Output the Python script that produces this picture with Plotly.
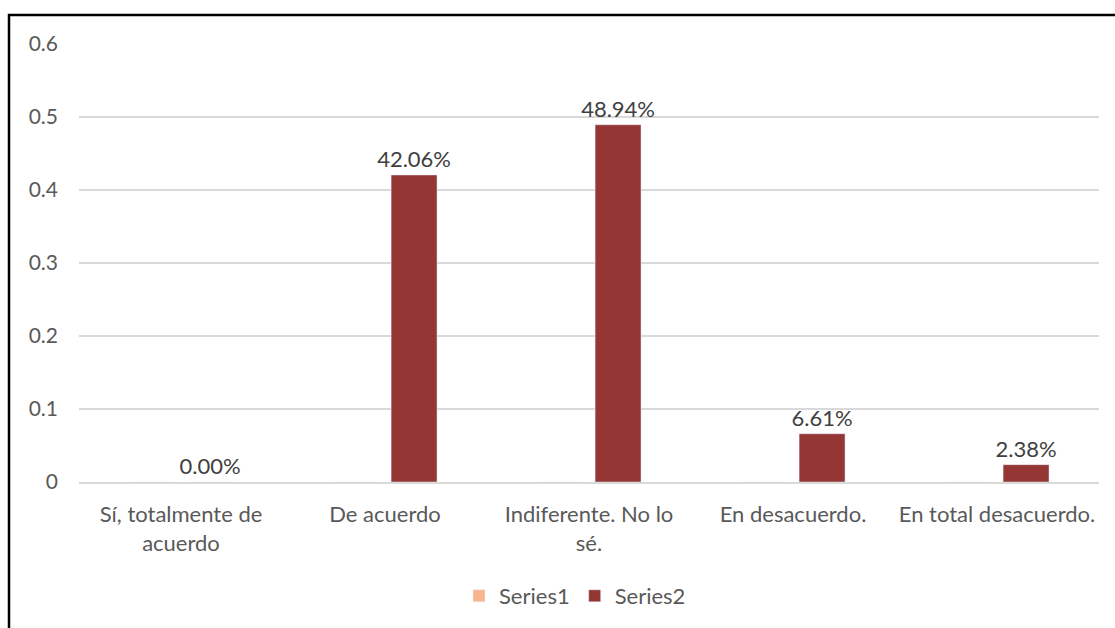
import plotly.graph_objects as go

categories = ["Sí, totalmente de<br>acuerdo", "De acuerdo", "Indiferente. No lo<br>sé.",
              "En desacuerdo.", "En total desacuerdo."]
series1 = [0, 0, 0, 0, 0]
series2 = [0.0, 0.4206, 0.4894, 0.0661, 0.0238]
series2_labels = ["0.00%", "42.06%", "48.94%", "6.61%", "2.38%"]
y_ticks = [0, 0.1, 0.2, 0.3, 0.4, 0.5, 0.6]

FONT = "Lato"
fig = go.Figure()
fig.add_trace(go.Bar(x=categories, y=series1, name="Series1", marker_color="#F9B68E"))
fig.add_trace(go.Bar(x=categories, y=series2, name="Series2", marker_color="#943634",
                     text=series2_labels, textposition="outside", cliponaxis=False,
                     constraintext="none",
                     textfont=dict(family=FONT, size=22, color="#404040")))

L, R, T, B = 79, 16, 44, 146
W, H = 1115, 628
pw = W - L - R
ph = H - T - B

def px_x(p):
    return (p - L) / pw

def px_y(p):
    return (H - B - p) / ph

fig.update_layout(
    width=W, height=H,
    margin=dict(l=L, r=R, t=T, b=B, pad=0, autoexpand=False),
    paper_bgcolor="white", plot_bgcolor="white",
    barmode="group", bargap=0.43, bargroupgap=0.21,
    font=dict(family=FONT, size=22, color="#595959"),
    showlegend=True,
    legend=dict(orientation="h", x=px_x(575), xanchor="center", y=px_y(596), yanchor="middle",
                font=dict(family=FONT, size=22, color="#595959"),
                itemwidth=30, traceorder="normal"),
    yaxis=dict(range=[0, 0.6], tickvals=y_ticks, ticktext=[str(v) for v in y_ticks],
               showgrid=True, gridcolor="#D9D9D9", gridwidth=1.5, zeroline=False,
               showline=False, ticks="", ticklabelstandoff=20,
               tickfont=dict(family=FONT, size=21, color="#595959")),
    xaxis=dict(showgrid=False, showline=True, linecolor="#D9D9D9", linewidth=1.5,
               ticks="", ticklabelstandoff=12,
               tickfont=dict(family=FONT, size=22, color="#595959")),
    shapes=[dict(type="rect", xref="paper", yref="paper",
                 x0=px_x(9), x1=px_x(1130), y0=px_y(660), y1=px_y(15),
                 line=dict(color="black", width=2.5), fillcolor="rgba(0,0,0,0)", layer="above")],
)

fig.write_html("out.html", config={"displayModeBar": False},
               post_script="document.body.style.margin='0px';document.body.style.overflow='hidden';")
